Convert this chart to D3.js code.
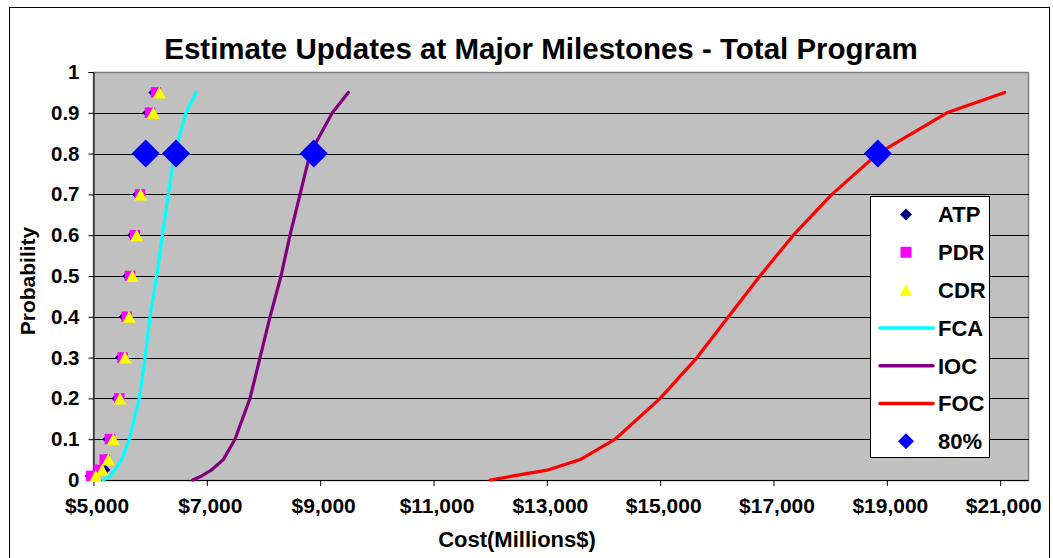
<!DOCTYPE html>
<html>
<head>
<meta charset="utf-8">
<script src="https://cdn.jsdelivr.net/npm/d3@7"></script>
<style>
  html, body { margin: 0; padding: 0; background: #fff; }
  svg { display: block; }
  text { font-family: "Liberation Sans", Arial, sans-serif; font-weight: bold; fill: #000; }
</style>
</head>
<body>
<svg id="chart" width="1053" height="558"></svg>
<script>
// Cumulative probability levels for the S-curves
const lineProb = [0, 0.01, 0.025, 0.05, 0.1, 0.2, 0.3, 0.4, 0.5, 0.6, 0.7, 0.8, 0.9, 0.95];
// Probability levels for the milestone point estimates
const pointProb = [0.01, 0.025, 0.05, 0.1, 0.2, 0.3, 0.4, 0.5, 0.6, 0.7, 0.8, 0.9, 0.95];

// Milestone estimates (cost, $M)
const atpCost = [4940, 5200, 5215, 5255, 5415, 5475, 5545, 5605, 5690, 5780, 5870, 5960, 6065];
const pdrCost = [4961, 5097, 5198, 5291, 5455, 5515, 5586, 5644, 5732, 5821, 5909, 5997, 6103];
const cdrCost = [5039, 5155, 5261, 5349, 5468, 5556, 5627, 5685, 5762, 5833, 5927, 6055, 6161];

// S-curve estimates (cost, $M)
const fcaCost = [5173, 5291, 5380, 5497, 5632, 5808, 5909, 5997, 6115, 6215, 6321, 6426, 6633, 6809];
const iocCost = [6751, 6910, 7086, 7291, 7497, 7762, 7939, 8115, 8309, 8468, 8645, 8821, 9215, 9497];
const focCost = [12000, 12410, 13030, 13590, 14205, 15000, 15650, 16205, 16760, 17350, 18030, 18840, 20060, 21080];

// 80% confidence points
const p80Cost = [5921, 6456, 8887, 18841];
const p80Prob = [0.8, 0.8, 0.8, 0.8];

// Axis ticks
const xTicks = [5000, 7000, 9000, 11000, 13000, 15000, 17000, 19000, 21000];
const xTickLabels = ["$5,000", "$7,000", "$9,000", "$11,000", "$13,000", "$15,000", "$17,000", "$19,000", "$21,000"];
const yTicks = [0, 0.1, 0.2, 0.3, 0.4, 0.5, 0.6, 0.7, 0.8, 0.9, 1];
const yTickLabels = ["0", "0.1", "0.2", "0.3", "0.4", "0.5", "0.6", "0.7", "0.8", "0.9", "1"];

const legendNames = ["ATP", "PDR", "CDR", "FCA", "IOC", "FOC", "80%"];

const svg = d3.select("#chart");

const plot = { left: 93.5, right: 1028.5, top: 72, bottom: 480 };
const x = d3.scaleLinear().domain([5000, 21500]).range([plot.left, plot.right]);
const y = d3.scaleLinear().domain([0, 1]).range([plot.bottom, plot.top]);

// Chart frame
svg.append("rect")
  .attr("x", 9.5).attr("y", 7.5).attr("width", 1040).attr("height", 560)
  .attr("fill", "#fff").attr("stroke", "#000").attr("stroke-width", 1);

// Title
svg.append("text")
  .attr("x", 541).attr("y", 59)
  .attr("text-anchor", "middle")
  .attr("font-size", 29.5)
  .text("Estimate Updates at Major Milestones - Total Program");

// Plot area
svg.append("rect")
  .attr("x", plot.left).attr("y", plot.top + 0.5)
  .attr("width", plot.right - plot.left).attr("height", plot.bottom - plot.top)
  .attr("fill", "#c0c0c0").attr("stroke", "#808080").attr("stroke-width", 1.5);

// Horizontal gridlines
svg.append("g")
  .selectAll("line")
  .data(yTicks.filter(v => v > 0 && v < 1))
  .join("line")
  .attr("x1", plot.left).attr("x2", plot.right)
  .attr("y1", d => Math.round(y(d)) + 0.5).attr("y2", d => Math.round(y(d)) + 0.5)
  .attr("stroke", "#000").attr("stroke-width", 1)
  .attr("shape-rendering", "crispEdges");

// Axes
const yAxis = d3.axisLeft(y)
  .tickValues(yTicks)
  .tickSize(5)
  .tickPadding(9)
  .tickFormat((d, i) => yTickLabels[i]);
const gy = svg.append("g").attr("transform", `translate(${plot.left},0)`).call(yAxis);
gy.select(".domain").attr("stroke", "#000");
gy.selectAll(".tick line").attr("stroke", "#000");
gy.selectAll(".tick text")
  .attr("font-size", 20.5).attr("font-family", null).attr("fill", "#000");

const xAxis = d3.axisBottom(x)
  .tickValues(xTicks)
  .tickSize(6)
  .tickPadding(12)
  .tickFormat((d, i) => xTickLabels[i]);
const gx = svg.append("g").attr("transform", `translate(0,${plot.bottom})`).call(xAxis);
gx.select(".domain").attr("stroke", "#000").attr("d", `M${plot.left},0.5H${plot.right}`);
gx.selectAll(".tick line").attr("stroke", "#000");
gx.selectAll(".tick text")
  .attr("font-size", 21).attr("font-family", null).attr("fill", "#000")
  .attr("dx", 3)
  .attr("dy", "0.71em");

// Axis titles
svg.append("text")
  .attr("x", 517).attr("y", 547)
  .attr("text-anchor", "middle")
  .attr("font-size", 22)
  .text("Cost(Millions$)");

svg.append("text")
  .attr("transform", "translate(35,281) rotate(-90)")
  .attr("text-anchor", "middle")
  .attr("font-size", 21)
  .text("Probability");

// Marker shapes
function diamond(cx, cy, r) {
  return `M${cx},${cy - r}L${cx + r},${cy}L${cx},${cy + r}L${cx - r},${cy}Z`;
}
function square(cx, cy, s) {
  const h = s / 2;
  return `M${cx - h},${cy - h}h${s}v${s}h${-s}Z`;
}
function triangle(cx, cy, w, h) {
  return `M${cx},${cy - h / 2}L${cx + w / 2},${cy + h / 2}L${cx - w / 2},${cy + h / 2}Z`;
}

// S-curves
const curve = d3.line()
  .x(d => x(d[0]))
  .y(d => y(d[1]));

const lineSeries = [
  { cost: fcaCost, color: "#00ffff" },
  { cost: iocCost, color: "#800080" },
  { cost: focCost, color: "#ff0000" }
];
svg.append("g")
  .selectAll("path")
  .data(lineSeries)
  .join("path")
  .attr("d", s => curve(s.cost.map((c, i) => [c, lineProb[i]])))
  .attr("fill", "none")
  .attr("stroke", s => s.color)
  .attr("stroke-width", 3.2)
  .attr("stroke-linejoin", "round")
  .attr("stroke-linecap", "round");

// Milestone markers
const pts = arr => arr.map((c, i) => ({ cx: x(c), cy: y(pointProb[i]) }));

svg.append("g").selectAll("path")
  .data(pts(atpCost)).join("path")
  .attr("d", d => diamond(d.cx, d.cy, 5.5))
  .attr("fill", "#000080");

svg.append("g").selectAll("path")
  .data(pts(pdrCost)).join("path")
  .attr("d", d => square(d.cx, d.cy, 10.5))
  .attr("fill", "#ff00ff");

svg.append("g").selectAll("path")
  .data(pts(cdrCost)).join("path")
  .attr("d", d => triangle(d.cx, d.cy, 13, 12))
  .attr("fill", "#ffff00");

// 80% confidence points
svg.append("g").selectAll("path")
  .data(p80Cost.map((c, i) => ({ cx: x(c), cy: y(p80Prob[i]) })))
  .join("path")
  .attr("d", d => diamond(d.cx, d.cy, 14))
  .attr("fill", "#0000ff");

// Legend
const legend = svg.append("g");
legend.append("rect")
  .attr("x", 870.5).attr("y", 196.5).attr("width", 119).attr("height", 261)
  .attr("fill", "#fff").attr("stroke", "#000").attr("stroke-width", 1);

const legendKeys = [
  { type: "diamond", color: "#000080", r: 6 },
  { type: "square", color: "#ff00ff", s: 11 },
  { type: "triangle", color: "#ffff00" },
  { type: "line", color: "#00ffff" },
  { type: "line", color: "#800080" },
  { type: "line", color: "#ff0000" },
  { type: "diamond", color: "#0000ff", r: 8 }
];
legendKeys.forEach((k, i) => {
  const cy = 214.5 + i * 37.8;
  const mx = 906;
  if (k.type === "diamond") {
    legend.append("path").attr("d", diamond(mx, cy, k.r)).attr("fill", k.color);
  } else if (k.type === "square") {
    legend.append("path").attr("d", square(mx, cy, k.s)).attr("fill", k.color);
  } else if (k.type === "triangle") {
    legend.append("path").attr("d", triangle(mx, cy, 13, 12)).attr("fill", k.color);
  } else {
    legend.append("line")
      .attr("x1", 880).attr("x2", 933).attr("y1", cy).attr("y2", cy)
      .attr("stroke", k.color).attr("stroke-width", 3.5).attr("stroke-linecap", "round");
  }
  legend.append("text")
    .attr("x", 938).attr("y", cy)
    .attr("dy", "0.36em")
    .attr("font-size", 22)
    .text(legendNames[i]);
});
</script>
</body>
</html>
